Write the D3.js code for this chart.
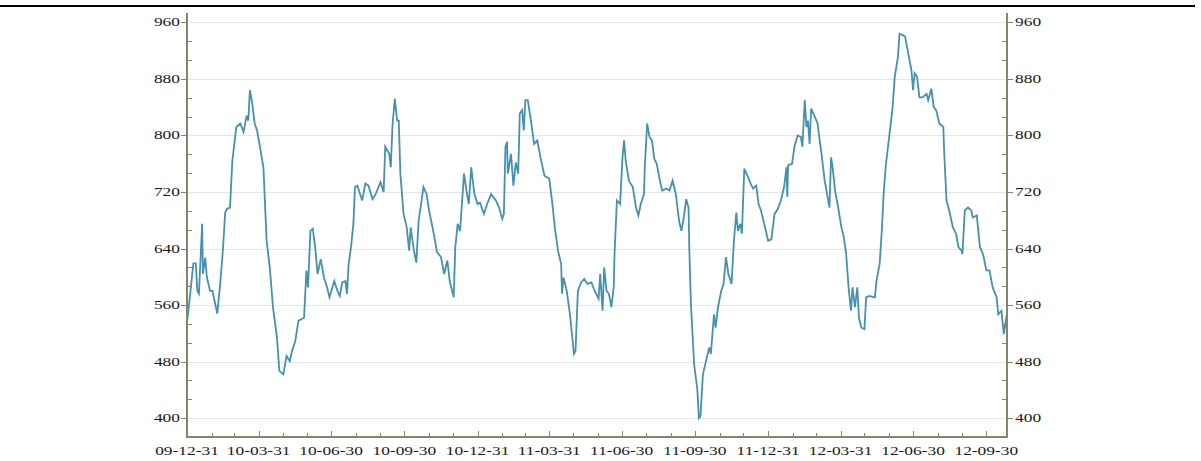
<!DOCTYPE html>
<html>
<head>
<meta charset="utf-8">
<script src="https://cdn.jsdelivr.net/npm/d3@7/dist/d3.min.js"></script>
<style>
  html, body { margin: 0; padding: 0; background: #fff; }
  svg { display: block; }
  .lbl { font-family: "Liberation Serif", "Times New Roman", serif; font-size: 12px; fill: #1a1a1a; }
</style>
</head>
<body>
<svg id="chart" width="1201" height="461"></svg>
<script>
// Daily index level (sampled), end of 2009 through late October 2012
const dates = [
  "2009-12-31","2010-01-04","2010-01-08","2010-01-11","2010-01-13","2010-01-15","2010-01-19","2010-01-20","2010-01-23","2010-01-25",
  "2010-01-29","2010-02-01","2010-02-07","2010-02-11","2010-02-14","2010-02-17","2010-02-19","2010-02-23","2010-02-26","2010-02-28",
  "2010-03-03","2010-03-08","2010-03-12","2010-03-16","2010-03-18","2010-03-20","2010-03-23","2010-03-26","2010-03-29","2010-04-01",
  "2010-04-06","2010-04-10","2010-04-14","2010-04-18","2010-04-23","2010-04-26","2010-05-01","2010-05-05","2010-05-09","2010-05-12",
  "2010-05-16","2010-05-20","2010-05-27","2010-05-30","2010-06-01","2010-06-04","2010-06-07","2010-06-10","2010-06-13","2010-06-17",
  "2010-06-21","2010-06-25","2010-06-28","2010-07-04","2010-07-08","2010-07-11","2010-07-14","2010-07-18","2010-07-20","2010-07-22",
  "2010-07-25","2010-07-28","2010-07-30","2010-08-02","2010-08-08","2010-08-12","2010-08-16","2010-08-21","2010-08-25","2010-08-31",
  "2010-09-04","2010-09-06","2010-09-11","2010-09-13","2010-09-15","2010-09-18","2010-09-21","2010-09-23","2010-09-25","2010-09-29",
  "2010-10-03","2010-10-06","2010-10-08","2010-10-12","2010-10-15","2010-10-18","2010-10-21","2010-10-24","2010-10-28","2010-10-31",
  "2010-11-06","2010-11-10","2010-11-15","2010-11-19","2010-11-23","2010-11-26","2010-12-01","2010-12-03","2010-12-06","2010-12-09",
  "2010-12-11","2010-12-14","2010-12-17","2010-12-20","2010-12-23","2010-12-27","2010-12-31","2011-01-03","2011-01-08","2011-01-12",
  "2011-01-17","2011-01-23","2011-01-27","2011-01-31","2011-02-02","2011-02-04","2011-02-06","2011-02-07","2011-02-11","2011-02-14",
  "2011-02-17","2011-02-20","2011-02-22","2011-02-25","2011-02-27","2011-03-01","2011-03-04","2011-03-08","2011-03-12","2011-03-16",
  "2011-03-20","2011-03-25","2011-03-31","2011-04-04","2011-04-07","2011-04-11","2011-04-15","2011-04-16","2011-04-18","2011-04-22",
  "2011-04-26","2011-05-01","2011-05-03","2011-05-06","2011-05-10","2011-05-14","2011-05-18","2011-05-23","2011-05-27","2011-06-01",
  "2011-06-03","2011-06-06","2011-06-08","2011-06-11","2011-06-14","2011-06-17","2011-06-20","2011-06-21","2011-06-24","2011-06-28",
  "2011-07-01","2011-07-03","2011-07-05","2011-07-09","2011-07-14","2011-07-18","2011-07-21","2011-07-24","2011-07-28","2011-07-29",
  "2011-08-01","2011-08-04","2011-08-07","2011-08-10","2011-08-13","2011-08-17","2011-08-20","2011-08-25","2011-08-29","2011-09-02",
  "2011-09-06","2011-09-10","2011-09-13","2011-09-16","2011-09-19","2011-09-22","2011-09-23","2011-09-25","2011-09-29","2011-10-03",
  "2011-10-05","2011-10-07","2011-10-10","2011-10-14","2011-10-18","2011-10-20","2011-10-24","2011-10-26","2011-10-29","2011-11-02",
  "2011-11-05","2011-11-08","2011-11-11","2011-11-15","2011-11-18","2011-11-21","2011-11-23","2011-11-26","2011-11-28","2011-12-01",
  "2011-12-05","2011-12-09","2011-12-12","2011-12-16","2011-12-19","2011-12-22","2011-12-26","2011-12-31","2012-01-04","2012-01-08",
  "2012-01-12","2012-01-16","2012-01-20","2012-01-23","2012-01-24","2012-01-25","2012-01-30","2012-02-02","2012-02-06","2012-02-10",
  "2012-02-12","2012-02-15","2012-02-17","2012-02-19","2012-02-21","2012-02-23","2012-02-27","2012-03-02","2012-03-07","2012-03-11",
  "2012-03-14","2012-03-17","2012-03-19","2012-03-21","2012-03-24","2012-03-28","2012-04-01","2012-04-04","2012-04-07","2012-04-10",
  "2012-04-13","2012-04-15","2012-04-18","2012-04-21","2012-04-23","2012-04-26","2012-04-30","2012-05-02","2012-05-06","2012-05-13",
  "2012-05-15","2012-05-19","2012-05-22","2012-05-24","2012-05-27","2012-05-31","2012-06-04","2012-06-07","2012-06-11","2012-06-13",
  "2012-06-17","2012-06-20","2012-06-24","2012-06-28","2012-06-30","2012-07-02","2012-07-05","2012-07-08","2012-07-12","2012-07-17",
  "2012-07-19","2012-07-23","2012-07-26","2012-07-29","2012-08-02","2012-08-07","2012-08-08","2012-08-11","2012-08-15","2012-08-19",
  "2012-08-23","2012-08-26","2012-08-30","2012-08-31","2012-09-03","2012-09-07","2012-09-11","2012-09-13","2012-09-18","2012-09-22",
  "2012-09-26","2012-09-30","2012-10-04","2012-10-08","2012-10-13","2012-10-15","2012-10-19","2012-10-22","2012-10-25","2012-10-26"
];

const values = [
  535,576,619,619,580,576,675,604,627,599,
  580,580,548,594,637,691,696,698,765,784,
  812,817,805,828,821,864,845,817,807,788,
  755,651,613,557,514,467,462,488,481,495,
  509,538,542,609,585,665,668,642,604,625,
  599,585,571,594,580,573,592,594,576,618,
  642,675,727,729,708,732,729,710,717,734,
  720,784,774,755,812,852,821,821,746,689,
  670,637,670,637,620,680,703,727,717,694,
  661,635,628,604,623,594,571,642,675,665,
  698,746,722,703,755,717,703,705,689,703,
  717,708,698,682,689,784,791,746,774,729,
  762,746,831,836,807,850,850,821,788,793,
  769,743,739,703,670,637,618,576,599,580,
  547,491,495,580,592,597,590,592,580,569,
  604,552,613,580,576,557,585,632,708,703,
  769,793,765,736,727,698,687,703,717,755,
  817,798,793,767,760,736,722,725,722,736,
  717,680,665,684,710,698,637,561,476,441,
  400,403,462,481,500,491,547,528,557,580,
  590,628,604,590,651,691,665,675,661,753,
  743,732,725,729,703,694,675,651,653,689,
  696,708,727,755,713,758,760,784,800,798,
  784,850,812,821,788,838,828,817,774,736,
  717,698,769,755,722,698,670,656,632,585,
  552,585,557,585,542,528,526,571,573,571,
  594,618,670,717,760,798,836,883,911,944,
  942,940,916,892,864,888,883,854,854,859,
  850,866,840,836,817,812,779,708,691,670,
  661,642,637,632,694,698,694,684,687,642,
  632,609,609,585,571,547,552,519,542,547
];

// Value axis labels and the quarter-end dates that carry a label
const yTickValues = [400, 480, 560, 640, 720, 800, 880, 960];
const xLabelDates = [
  "2009-12-31","2010-03-31","2010-06-30","2010-09-30","2010-12-31","2011-03-31",
  "2011-06-30","2011-09-30","2011-12-31","2012-03-31","2012-06-30","2012-09-30"
];

const parse = d3.timeParse("%Y-%m-%d");
const fmt = d3.timeFormat("%y-%m-%d");
const series = dates.map((d, i) => ({ date: parse(d), value: values[i] }));

const svg = d3.select("#chart");
const plotL = 187, plotR = 1007, plotT = 13, plotB = 437;
const axisColor = "#86856a";

const x = d3.scaleTime()
  .domain([parse("2009-12-31"), parse("2012-10-26")])
  .range([plotL, plotR]);
const y = d3.scaleLinear()
  .domain([373.33, 973.33])
  .range([plotB, plotT]);

// header rule
svg.append("rect").attr("x", 0).attr("y", 5).attr("width", 1195).attr("height", 2).attr("fill", "#000");

// horizontal grid
svg.append("g").selectAll("line").data(yTickValues).join("line")
  .attr("x1", plotL).attr("x2", plotR)
  .attr("y1", d => Math.round(y(d)) + 0.5).attr("y2", d => Math.round(y(d)) + 0.5)
  .attr("stroke", "#e4e4fb").attr("stroke-width", 1);

// series line
const line = d3.line().x(d => x(d.date)).y(d => y(d.value));
svg.append("path").datum(series)
  .attr("d", line)
  .attr("fill", "none")
  .attr("stroke", "#4592ae")
  .attr("stroke-width", 1.8)
  .attr("stroke-linejoin", "miter");

// horizontally stretched label text
function label(g, px, py, str, anchor) {
  g.append("text")
    .attr("class", "lbl")
    .attr("transform", `translate(${px},${py}) scale(1.45,1)`)
    .attr("text-anchor", anchor)
    .text(str);
}

const axes = svg.append("g");

// minor value ticks every 80/3
const minorY = d3.range(0, 23).map(i => 373.33 + i * 80 / 3)
  .filter(v => v <= 973.33 && yTickValues.indexOf(Math.round(v)) < 0);

[plotL, plotR].forEach((ax, side) => {
  const dir = side === 0 ? -1 : 1;
  axes.append("line").attr("x1", ax).attr("x2", ax).attr("y1", plotT).attr("y2", plotB + 1)
    .attr("stroke", axisColor).attr("stroke-width", 2);
  axes.selectAll(null).data(yTickValues).join("line")
    .attr("x1", ax).attr("x2", ax + dir * 6)
    .attr("y1", d => Math.round(y(d)) + 0.5).attr("y2", d => Math.round(y(d)) + 0.5)
    .attr("stroke", axisColor).attr("stroke-width", 1);
  axes.selectAll(null).data(minorY).join("line")
    .attr("x1", ax).attr("x2", ax - dir * 5)
    .attr("y1", d => Math.round(y(d)) + 0.5).attr("y2", d => Math.round(y(d)) + 0.5)
    .attr("stroke", axisColor).attr("stroke-width", 1);
  yTickValues.forEach(v => {
    label(axes, side === 0 ? ax - 7 : ax + 8, y(v) + 4, String(v), side === 0 ? "end" : "start");
  });
});

// bottom axis: monthly ticks inside, longer ones at labelled quarter ends
axes.append("line").attr("x1", plotL - 1).attr("x2", plotR + 1).attr("y1", plotB).attr("y2", plotB)
  .attr("stroke", axisColor).attr("stroke-width", 2);
const monthEnds = d3.timeMonth.range(parse("2010-01-01"), parse("2012-11-01"))
  .map(d => d3.timeDay.offset(d, -1))
  .filter(d => d <= x.domain()[1]);
const quarterSet = new Set(xLabelDates);
axes.selectAll(null).data(monthEnds).join("line")
  .attr("x1", d => Math.round(x(d)) + 0.5).attr("x2", d => Math.round(x(d)) + 0.5)
  .attr("y1", plotB).attr("y2", d => plotB - (quarterSet.has(d3.timeFormat("%Y-%m-%d")(d)) ? 6 : 4))
  .attr("stroke", axisColor).attr("stroke-width", 1);
xLabelDates.forEach(s => {
  const d = parse(s);
  label(axes, x(d), 455, fmt(d), "middle");
});
</script>
</body>
</html>
